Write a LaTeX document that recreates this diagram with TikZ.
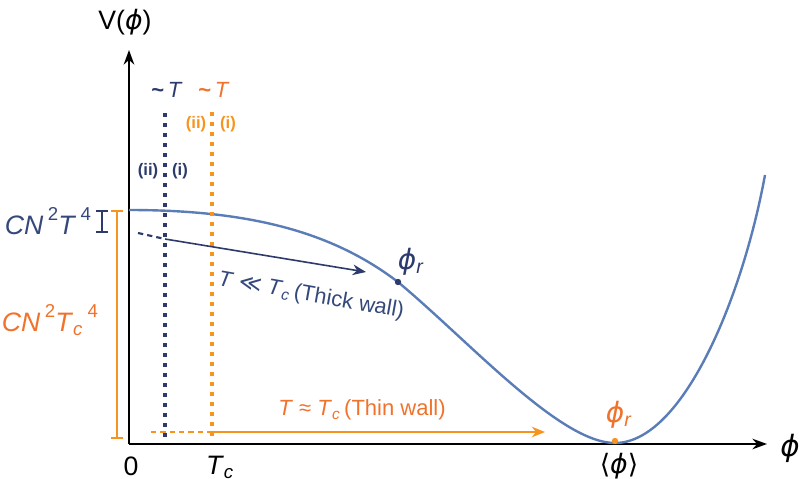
\documentclass[tikz,border=0pt]{standalone}
\usepackage{fontspec}
\setmainfont{Liberation Sans}
\newfontfamily\symfont{DejaVu Sans}
\usetikzlibrary{arrows.meta, positioning}
\definecolor{cblue}{HTML}{5A7DB8}
\definecolor{cnavy}{HTML}{2C3B6C}
\definecolor{corange}{HTML}{F7941E}
\definecolor{ctext}{HTML}{F0722B}
\tikzset{
  every picture/.style={line width=1.2pt},
  axis/.style={-{Stealth[length=11pt, width=8pt]}, black, line width=1.1pt},
  arrow/.style={-{Stealth[length=10pt, width=8pt]}, draw=#1, line width=1.2pt},
  guide/.style={draw=#1, line width=2.4pt, dash pattern=on 3pt off 4.5pt},
  lab/.style={font=\fontsize{20}{22}\selectfont, inner sep=1pt},
  small/.style={font=\fontsize{16.5}{18}\selectfont, inner sep=1pt},
  tag/.style={font=\fontsize{12.5}{14}\selectfont\bfseries, inner sep=1pt},
  bracket/.style={draw=#1, line width=1.4pt, {Bar[width=9pt]}-{Bar[width=9pt]}},
}
\newcommand{\phisym}{{\symfont\itshape ϕ}}
\newcommand{\Tcrit}{\textit{T}\textsubscript{\textit{c}}}
\newcommand{\upidx}[1]{\,\raisebox{0.55em}{\fontsize{14}{14}\selectfont #1}}

\begin{document}
\begin{tikzpicture}[x=0.75pt, y=-0.75pt]
  \useasboundingbox (0,0) rectangle (801,479);
  % axes
  \coordinate (o) at (129,444);
  \coordinate (ytop) at (129,50);
  \coordinate (xend) at (767,444);
  \draw[axis] (o) -- (ytop);
  \draw[axis] (o) -- (xend);
  \node[lab] (vlab) at (125,22) {V(\phisym)};
  \node[lab, font=\fontsize{22}{24}\selectfont] (philab) at (790,448) {\phisym};
  \node[lab] (zero) at (131,466) {0};
  \node[lab] (tclab) at (220,467) {\Tcrit};
  \node[lab] (vev) at (619,466) {{\symfont ⟨}\phisym{\symfont ⟩}};
  % potential
  \draw[cblue, line width=1.8pt] (129,210) .. controls (255,210) and (335,234) .. (398,282)
    .. controls (470,342) and (560,443) .. (615,443)
    .. controls (682,443) and (742,300) .. (765,175);
  % temperature guides
  \coordinate (nt) at (165,113);
  \coordinate (nb) at (165,443);
  \coordinate (ot) at (212,112);
  \coordinate (ob) at (212,441);
  \draw[guide=cnavy] (nt) -- (nb);
  \draw[guide=corange, line width=2.8pt] (ot) -- (ob);
  \node[small, text=cnavy] (tnavy) at (167,90) {\textbf{\textasciitilde}\,\textit{T}};
  \node[small, text=ctext] (torange) at (214,90) {\textbf{\textasciitilde}\,\textit{T}};
  \node[tag, text=cnavy] (iinavy) at (148,171) {(ii)};
  \node[tag, text=cnavy] (inavy) at (180,171) {(i)};
  \node[tag, text=corange] (iiorange) at (196,124) {(ii)};
  \node[tag, text=corange] (iorange) at (228,124) {(i)};
  % energy scales
  \coordinate (b1) at (102,210);
  \coordinate (b2) at (102,233);
  \coordinate (c1) at (117,210);
  \coordinate (c2) at (117,439);
  \draw[bracket=cnavy] (b1) -- (b2);
  \draw[bracket=corange] (c1) -- (c2);
  \node[lab, text=cnavy!80!cblue] (scale) at (48,221) {\textit{CN}\upidx{2}\textit{T}\upidx{4}};
  \node[lab, text=ctext] (scalec) at (50,320) {\textit{CN}\upidx{2}\textit{T}\textsubscript{\textit{c}}\upidx{4}};
  % thick wall
  \coordinate (ks) at (138,233);
  \coordinate (km) at (165,239);
  \coordinate (ke) at (366,272);
  \draw[cnavy, line width=1.6pt, dash pattern=on 4pt off 3pt] (ks) -- (km);
  \draw[arrow=cnavy] (km) -- (ke);
  \node[small, text=cnavy!80!cblue, rotate=-10] (thick) at (311,296) {\textit{T} {\symfont ≪} \Tcrit\,(Thick wall)};
  \fill[cnavy] (398,282) circle (3.2);
  \node[lab, text=cnavy, font=\fontsize{21}{23}\selectfont] (rnavy) at (411,262) {\phisym\textsubscript{\textit{r}}};
  % thin wall
  \coordinate (ns) at (151,432);
  \coordinate (nm) at (212,432);
  \coordinate (ne) at (545,432);
  \draw[corange, line width=1.6pt, dash pattern=on 4pt off 3pt] (ns) -- (nm);
  \draw[arrow=corange] (nm) -- (ne);
  \node[small, text=ctext] (thin) at (362,410) {\textit{T} ≈ \Tcrit\,(Thin wall)};
  \fill[corange] (615,441) circle (3.2);
  \node[lab, text=ctext, font=\fontsize{21}{23}\selectfont] (rorange) at (619,415) {\phisym\textsubscript{\textit{r}}};
\end{tikzpicture}
\end{document}
